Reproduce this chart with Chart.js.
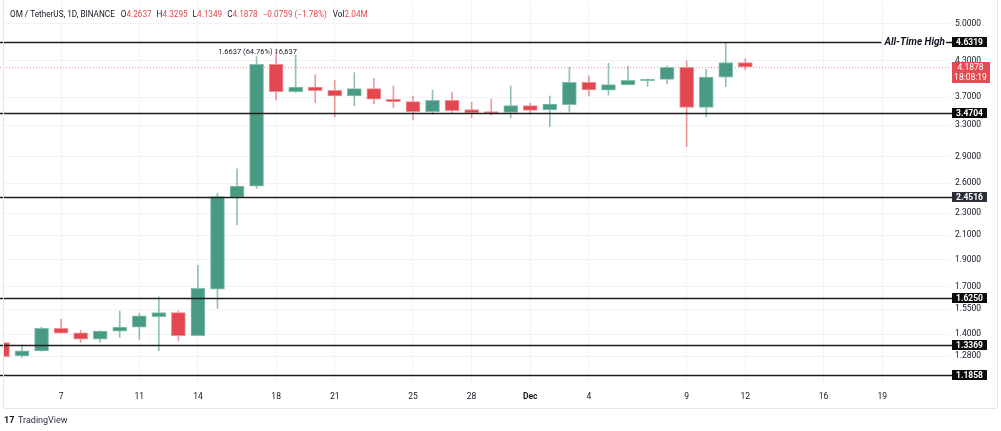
<!DOCTYPE html>
<html>
<head>
<meta charset="utf-8">
<script src="https://cdn.jsdelivr.net/npm/chart.js@4.4.1/dist/chart.umd.min.js"></script>
<style>
  html, body { margin: 0; padding: 0; background: #ffffff; }
  #wrap { width: 1001px; height: 431px; position: relative; }
</style>
</head>
<body>
<div id="wrap"><canvas id="chart" width="1001" height="431"></canvas></div>
<script>
// day number counted from Nov 1 (Dec 1 = 31)
const candleDays = [4, 5, 6, 7, 8, 9, 10, 11, 12, 13, 14, 15, 16, 17, 18, 19, 20, 21, 22, 23, 24, 25, 26, 27, 28, 29, 30, 31, 32, 33, 34, 35, 36, 37, 38, 39, 40, 41, 42]
const opens  = [1.352, 1.280, 1.307, 1.434, 1.408, 1.372, 1.418, 1.441, 1.504, 1.529, 1.391, 1.683, 2.456, 2.569, 4.233, 3.783, 3.856, 3.805, 3.717, 3.830, 3.667, 3.631, 3.485, 3.652, 3.514, 3.485, 3.476, 3.572, 3.509, 3.586, 3.931, 3.805, 3.888, 3.957, 3.980, 4.181, 3.548, 4.013, 4.2637]
const highs  = [1.360, 1.339, 1.441, 1.490, 1.422, 1.420, 1.539, 1.525, 1.632, 1.541, 1.857, 2.494, 2.756, 4.366, 4.460, 4.397, 4.056, 3.964, 4.089, 3.996, 3.873, 3.717, 3.809, 3.773, 3.622, 3.671, 3.873, 3.607, 3.717, 4.181, 4.039, 4.250, 4.203, 3.985, 4.208, 4.295, 4.147, 4.6319, 4.3295]
const lows   = [1.272, 1.273, 1.305, 1.405, 1.354, 1.354, 1.382, 1.371, 1.308, 1.361, 1.391, 1.556, 2.190, 2.546, 3.656, 3.767, 3.616, 3.414, 3.572, 3.601, 3.543, 3.368, 3.448, 3.471, 3.400, 3.438, 3.400, 3.452, 3.277, 3.481, 3.717, 3.732, 3.888, 3.861, 3.904, 3.019, 3.414, 3.861, 4.1349]
const closes = [1.276, 1.308, 1.434, 1.405, 1.372, 1.418, 1.441, 1.510, 1.529, 1.391, 1.690, 2.460, 2.569, 4.233, 3.783, 3.856, 3.798, 3.717, 3.830, 3.667, 3.631, 3.485, 3.652, 3.499, 3.471, 3.462, 3.572, 3.502, 3.597, 3.931, 3.809, 3.893, 3.964, 3.985, 4.181, 3.548, 4.018, 4.2637, 4.1878]

const levels = [4.6319, 3.4704, 2.4516, 1.6250, 1.3369, 1.1858]
const athLevel = 4.6319
const priceTicks = [5.0, 4.3, 3.7, 3.3, 2.9, 2.6, 2.3, 2.1, 1.9, 1.7, 1.55, 1.4, 1.28]
const dateTickDays = [7, 11, 14, 18, 21, 25, 28, 31, 34, 39, 42, 46, 49]
const dateTickLabels = ['7', '11', '14', '18', '21', '25', '28', 'Dec', '4', '9', '12', '16', '19']

const lastClose = 4.1878
const countdown = '18:08:19'
const bigMoveDay = 17
const bigMoveText = '1.6637 (64.76%) 16,637'

const UP = '#489a84'
const DOWN = '#e2474f'
const FONT = 'Roboto, "Liberation Sans", sans-serif'

const isUp = i => closes[i] >= opens[i]

const bodies = candleDays.map((d, i) => ({ x: d, y: [opens[i], closes[i]] }))
const wicks = candleDays.map((d, i) => ({ x: d, y: [lows[i], highs[i]] }))

const overlay = {
    id: 'overlay',
    beforeDatasetsDraw(chart) {
        const { ctx, chartArea } = chart
        const y = chart.scales.y.getPixelForValue(lastClose)
        ctx.save()
        ctx.strokeStyle = 'rgba(242,54,69,0.55)'
        ctx.lineWidth = 1
        ctx.setLineDash([1, 2])
        ctx.beginPath()
        ctx.moveTo(chartArea.left - 4, Math.round(y) + 0.5)
        ctx.lineTo(chartArea.right, Math.round(y) + 0.5)
        ctx.stroke()
        ctx.restore()
    },
    afterDatasetsDraw(chart) {
        const { ctx, chartArea } = chart
        const ys = chart.scales.y
        const xs = chart.scales.x
        ctx.save()
        ctx.strokeStyle = '#1c1c1c'
        ctx.lineWidth = 1.6
        ctx.font = 'italic bold 10px ' + FONT
        const athW = ctx.measureText('All-Time High').width
        levels.forEach(v => {
            const y = Math.round(ys.getPixelForValue(v)) + 0.5
            ctx.beginPath()
            if (v === athLevel) {
                const textEnd = chartArea.right - 5
                const textStart = textEnd - athW
                ctx.moveTo(0, y)
                ctx.lineTo(textStart - 3, y)
                ctx.moveTo(textEnd + 1, y)
                ctx.lineTo(chartArea.right + 4, y)
                ctx.stroke()
                ctx.fillStyle = '#131722'
                ctx.textBaseline = 'middle'
                ctx.textAlign = 'left'
                ctx.fillText('All-Time High', textStart, y)
            } else {
                ctx.moveTo(0, y)
                ctx.lineTo(chartArea.right + 4, y)
                ctx.stroke()
            }
        })

        // big move annotation above the candle
        const i = candleDays.indexOf(bigMoveDay)
        ctx.font = '7.5px ' + FONT
        ctx.fillStyle = '#131722'
        ctx.textAlign = 'center'
        ctx.textBaseline = 'bottom'
        ctx.fillText(bigMoveText, xs.getPixelForValue(bigMoveDay) + 1, ys.getPixelForValue(highs[i]) - 1)
        ctx.restore()
    },
    afterDraw(chart) {
        const { ctx, chartArea } = chart
        const ys = chart.scales.y
        const bx = chartArea.right + 2
        const bw = 35
        ctx.save()
        ctx.font = 'bold 8.5px ' + FONT
        ctx.textAlign = 'center'
        ctx.textBaseline = 'middle'
        levels.forEach(v => {
            const y = ys.getPixelForValue(v)
            ctx.fillStyle = v === 2.4516 ? '#2a2e39' : '#0c0c0c'
            ctx.fillRect(bx, Math.round(y) - 5, bw, 10)
            ctx.fillStyle = '#ffffff'
            ctx.fillText(v.toFixed(4), bx + bw / 2, Math.round(y) + 0.5)
        })

        // last price box
        const py = ys.getPixelForValue(lastClose)
        ctx.fillStyle = '#e54b52'
        ctx.fillRect(bx, Math.round(py) - 5, bw + 3, 21)
        ctx.fillStyle = '#ffffff'
        ctx.font = '8.5px ' + FONT
        ctx.fillText(lastClose.toFixed(4), bx + bw / 2 + 1, Math.round(py) + 0.5)
        ctx.fillText(countdown, bx + bw / 2 + 1, Math.round(py) + 10.5)

        // header
        ctx.textAlign = 'left'
        ctx.font = '8.2px ' + FONT
        const parts = [
            ['OM / TetherUS, 1D, BINANCE', '#131722', 6],
            ['O', '#131722', 0], ['4.2637', DOWN, 5],
            ['H', '#131722', 0], ['4.3295', DOWN, 5],
            ['L', '#131722', 0], ['4.1349', DOWN, 5],
            ['C', '#131722', 0], ['4.1878', DOWN, 5],
            ['\u22120.0759 (\u22121.78%)', DOWN, 6],
            ['Vol', '#131722', 0], ['2.04M', DOWN, 0]
        ]
        let x = 10
        parts.forEach(([t, c, gap]) => {
            ctx.fillStyle = c
            ctx.fillText(t, x, 15)
            x += ctx.measureText(t).width + gap
        })

        // bottom frame and logo
        ctx.strokeStyle = '#e6e8ee'
        ctx.lineWidth = 1
        ctx.beginPath()
        ctx.moveTo(3, 408.5)
        ctx.lineTo(997, 408.5)
        ctx.moveTo(997.5, 0)
        ctx.lineTo(997.5, 408.5)
        ctx.moveTo(3.5, 0)
        ctx.lineTo(3.5, 408.5)
        ctx.stroke()

        ctx.fillStyle = '#131722'
        ctx.font = 'bold 9px ' + FONT
        ctx.fillText('17', 4, 421)
        ctx.font = '9px ' + FONT
        ctx.fillStyle = '#2a2e39'
        ctx.fillText('TradingView', 18, 421)
        ctx.restore()
    }
}

new Chart(document.getElementById('chart'), {
    type: 'bar',
    data: {
        datasets: [
            {
                label: 'body',
                data: bodies,
                backgroundColor: candleDays.map((d, i) => isUp(i) ? UP : DOWN),
                borderColor: candleDays.map((d, i) => isUp(i) ? '#86c0ae' : '#ef9095'),
                borderWidth: 1,
                borderSkipped: false,
                barThickness: 14,
                grouped: false,
                order: 0
            },
            {
                label: 'wick',
                data: wicks,
                backgroundColor: candleDays.map((d, i) => isUp(i) ? 'rgba(72,154,132,0.6)' : 'rgba(226,71,79,0.55)'),
                borderWidth: 0,
                barThickness: 1,
                grouped: false,
                order: 1
            }
        ]
    },
    options: {
        responsive: false,
        animation: false,
        devicePixelRatio: 1,
        layout: { padding: { left: 4, top: 2, right: 0, bottom: 23 } },
        plugins: { legend: { display: false }, tooltip: { enabled: false } },
        scales: {
            x: {
                type: 'linear',
                min: 4.08,
                max: 52.47,
                offset: false,
                grid: { color: '#f1f3f6', drawTicks: false, offset: false },
                border: { display: false },
                afterBuildTicks: s => { s.ticks = dateTickDays.map(v => ({ value: v })) },
                afterFit: s => { s.height = 26; s.paddingLeft = 0; s.paddingRight = 0 },
                ticks: {
                    padding: 10,
                    maxRotation: 0,
                    autoSkip: false,
                    color: '#131722',
                    font: ctx => ({ family: FONT, size: 8.5, weight: ctx.tick && ctx.tick.value === 31 ? 'bold' : 'normal' }),
                    callback: v => dateTickLabels[dateTickDays.indexOf(v)]
                }
            },
            y: {
                type: 'logarithmic',
                position: 'right',
                min: 1.1507,
                max: 5.464,
                grid: { color: '#f1f3f6', drawTicks: false },
                border: { display: false },
                afterBuildTicks: s => { s.ticks = priceTicks.map(v => ({ value: v })) },
                afterFit: s => { s.width = 51; s.paddingTop = 0; s.paddingBottom = 0 },
                ticks: {
                    padding: 5,
                    color: '#131722',
                    font: { family: FONT, size: 8.5 },
                    callback: v => Number(v).toFixed(4)
                }
            }
        }
    },
    plugins: [overlay]
})
</script>
</body>
</html>
